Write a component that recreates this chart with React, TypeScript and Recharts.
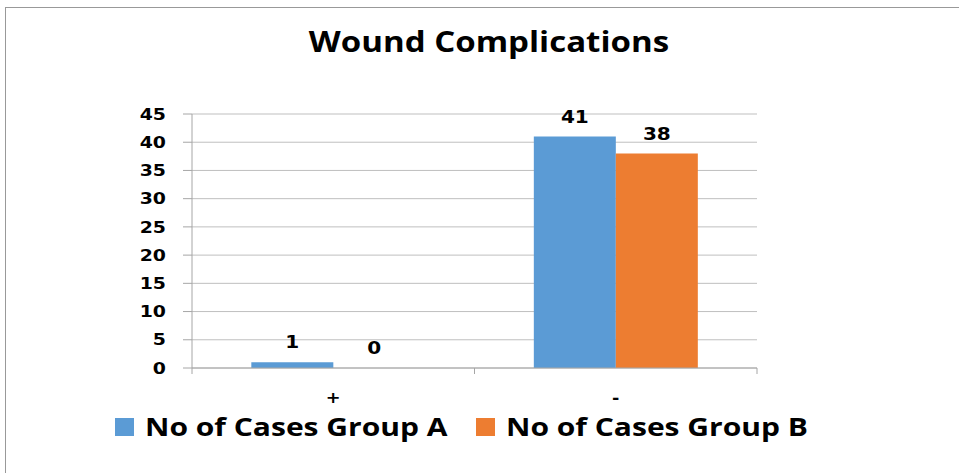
import { Bar, BarChart, CartesianGrid, LabelList, Legend, XAxis, YAxis } from 'recharts';

const categories = ['+', '-'];
const groupA = [1, 41];
const groupB = [0, 38];
const yTicks = [0, 5, 10, 15, 20, 25, 30, 35, 40, 45];

const seriesNames = ['No of Cases Group A', 'No of Cases Group B'];
const seriesColors = ['#5B9BD5', '#ED7D31'];

const data = categories.map((category, i) => ({
  category,
  groupA: groupA[i],
  groupB: groupB[i],
}));

const gridColor = '#BFBFBF';
const axisColor = '#A6A6A6';
const numberFont = '"DejaVu Sans", Verdana, sans-serif';
const textFont = '"Open Sans", sans-serif';
// the original picture is a bit stretched sideways
const STRETCH = 1.18;
const LEGEND_STRETCH = 1.2;

const X_TICK_SIZE = 6;
const X_TICK_MARGIN = 18;

function StretchedText({ x, y, anchor, size, children, dy }: any) {
  return (
    <text
      transform={`translate(${x},${y}) scale(${STRETCH},1)`}
      dy={dy}
      textAnchor={anchor}
      fontFamily={numberFont}
      fontWeight="bold"
      fontSize={size}
      fill="#000"
    >
      {children}
    </text>
  );
}

function CategoryTick(props: any) {
  const { x, y, payload, index, visibleTicksCount } = props;
  const half = payload.offset ?? 0;
  const axisY = y - X_TICK_SIZE - X_TICK_MARGIN;
  return (
    <g>
      <line x1={x - half} x2={x - half} y1={axisY} y2={axisY + X_TICK_SIZE} stroke={axisColor} />
      {index === visibleTicksCount - 1 && (
        <line x1={x + half} x2={x + half} y1={axisY} y2={axisY + X_TICK_SIZE} stroke={axisColor} />
      )}
      <StretchedText x={x} y={y} anchor="middle" size={15} dy="0.71em">
        {payload.value}
      </StretchedText>
    </g>
  );
}

function ValueTick(props: any) {
  const { x, y, payload } = props;
  return (
    <StretchedText x={x} y={y} anchor="end" size={16} dy="0.355em">
      {payload.value}
    </StretchedText>
  );
}

function BarValue(props: any) {
  const { x, y, width, value } = props;
  return (
    <StretchedText x={x + width / 2} y={y - 14} anchor="middle" size={17}>
      {value}
    </StretchedText>
  );
}

function LegendContent() {
  return (
    <div style={{ display: 'flex', alignItems: 'center', paddingLeft: 115 }}>
      {seriesNames.map((name, i) => (
        <div key={name} style={{ display: 'flex', alignItems: 'center', marginRight: 29 }}>
          <span style={{ width: 19, height: 18, background: seriesColors[i], display: 'inline-block', marginRight: 11, flexShrink: 0 }} />
          <span
            style={{
              fontFamily: textFont,
              fontWeight: 700,
              fontSize: 25,
              lineHeight: '25px',
              color: '#000',
              display: 'inline-block',
              width: 252,
              whiteSpace: 'nowrap',
              transform: `scaleX(${LEGEND_STRETCH})`,
              transformOrigin: 'left center',
              marginRight: 252 * (LEGEND_STRETCH - 1),
            }}
          >
            {name}
          </span>
        </div>
      ))}
    </div>
  );
}

export default function App() {
  return (
    <div style={{ position: 'absolute', left: 0, top: 0, width: 959, height: 473, background: '#fff', overflow: 'hidden' }}>
      <div
        style={{
          position: 'absolute',
          left: 5,
          top: 7,
          width: 1000,
          height: 600,
          borderTop: '1px solid #999',
          borderLeft: '1px solid #999',
        }}
      />
      <div
        style={{
          position: 'absolute',
          left: 0,
          width: 978,
          top: 22,
          textAlign: 'center',
          fontFamily: textFont,
          fontWeight: 700,
          fontSize: 28,
          color: '#000',
          transform: `scaleX(${STRETCH})`,
          transformOrigin: '489px center',
        }}
      >
        Wound Complications
      </div>
      <div style={{ position: 'absolute', left: 0, top: 0 }}>
        <BarChart
          width={959}
          height={473}
          data={data}
          margin={{ top: 114, right: 202, left: 0, bottom: 0 }}
          barCategoryGap="21%"
          barGap={0}
        >
          <CartesianGrid vertical={false} stroke={gridColor} />
          <YAxis
            width={192}
            domain={[0, 45]}
            ticks={yTicks}
            interval={0}
            tickSize={9}
            tickMargin={17}
            axisLine={{ stroke: axisColor }}
            tickLine={{ stroke: axisColor }}
            tick={<ValueTick />}
          />
          <XAxis
            dataKey="category"
            height={105}
            tickLine={false}
            tickSize={X_TICK_SIZE}
            tickMargin={X_TICK_MARGIN}
            axisLine={{ stroke: axisColor }}
            tick={<CategoryTick />}
            interval={0}
          />
          <Legend
            layout="horizontal"
            verticalAlign="middle"
            align="center"
            content={<LegendContent />}
            wrapperStyle={{ left: 0, top: 414, width: 959 }}
          />
          <Bar dataKey="groupA" name={seriesNames[0]} fill={seriesColors[0]} minPointSize={0.01} isAnimationActive={false}>
            <LabelList dataKey="groupA" content={<BarValue />} />
          </Bar>
          <Bar dataKey="groupB" name={seriesNames[1]} fill={seriesColors[1]} minPointSize={0.01} isAnimationActive={false}>
            <LabelList dataKey="groupB" content={<BarValue />} />
          </Bar>
        </BarChart>
      </div>
    </div>
  );
}
